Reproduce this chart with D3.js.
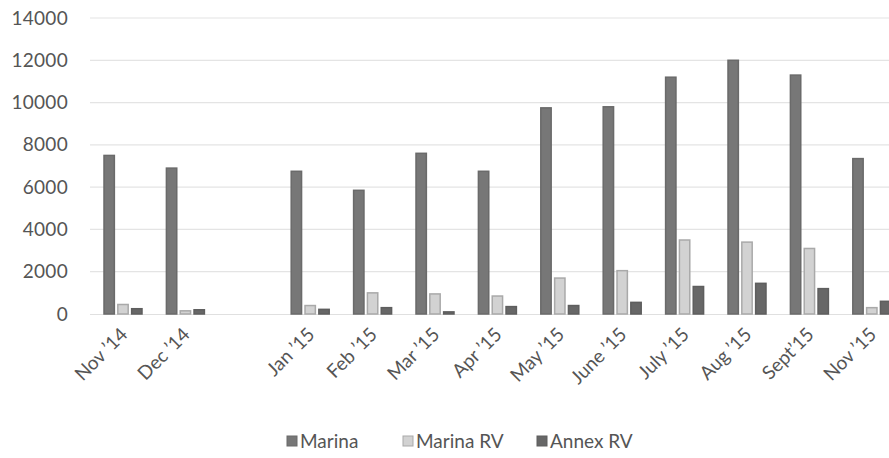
<!DOCTYPE html>
<html><head><meta charset="utf-8">
<script src="https://cdn.jsdelivr.net/npm/d3@7"></script>
<style>body{margin:0;background:#fff}svg{display:block}</style>
</head><body>
<svg id="c" width="889" height="458"></svg>
<script>
const categories = ["Nov \u201914","Dec \u201914","","Jan \u201915","Feb \u201915","Mar \u201915","Apr \u201915","May \u201915","June \u201915","July \u201915","Aug \u201915","Sept\u201915","Nov \u201915"];
const seriesNames = ["Marina","Marina RV","Annex RV"];
const marina   = [7500, 6900, null, 6750, 5850, 7600, 6750, 9750, 9800, 11200, 12000, 11300, 7350];
const marinaRV = [450, 150, null, 400, 1000, 950, 850, 1700, 2050, 3500, 3400, 3100, 300];
const annexRV  = [250, 200, null, 220, 300, 100, 350, 400, 550, 1300, 1450, 1200, 600];
const yTicks = [0,2000,4000,6000,8000,10000,12000,14000];

const seriesValues = [marina, marinaRV, annexRV];
const fills = ["#777777","#d2d2d2","#676767"];
const strokes = ["#6a6a6a","#a9a9a9","#5e5e5e"];
const font = "Lato, 'Open Sans', sans-serif";
const textColor = "#555555";

const svg = d3.select("#c");
const x0 = d3.scaleBand().domain(categories).range([91.8, 91.8 + 13*62.4]);
const groupW = 38;
const x1 = d3.scaleBand().domain(seriesNames).range([0, groupW]).paddingInner(0.25);
const y = d3.scaleLinear().domain([0,14000]).range([314, 18]);

// gridlines
svg.append("g").selectAll("line").data(yTicks.slice(1)).join("line")
  .attr("x1", 90).attr("x2", 889)
  .attr("y1", d=>y(d)).attr("y2", d=>y(d))
  .attr("stroke","#e4e4e4").attr("stroke-width",1.2);

// y axis labels
const yAxis = d3.axisLeft(y).tickValues(yTicks).tickSize(0).tickPadding(0).tickFormat(d3.format("d"));
const ya = svg.append("g").attr("transform","translate(68,0)").call(yAxis);
ya.select(".domain").remove();
ya.selectAll("text").attr("font-family",font).attr("font-size",19).attr("fill",textColor)
  .attr("letter-spacing","0.3px");

// baseline
svg.append("line").attr("x1",90).attr("x2",889).attr("y1",y(0)+0.5).attr("y2",y(0)+0.5)
  .attr("stroke","#e0e0e0").attr("stroke-width",1);

// bars
const off = (x0.bandwidth()-groupW)/2;
const groups = svg.append("g").selectAll("g").data(categories).join("g")
  .attr("transform", c => `translate(${x0(c)+off},0)`);
groups.selectAll("rect").data((c,i)=>seriesNames.map((s,k)=>({s,k,v:seriesValues[k][i]})).filter(d=>d.v!=null))
  .join("rect")
  .attr("x", d=>x1(d.s)).attr("width", x1.bandwidth())
  .attr("y", d=>y(d.v)).attr("height", d=>y(0)-y(d.v))
  .attr("fill", d=>fills[d.k]).attr("stroke", d=>strokes[d.k]).attr("stroke-width",1.5);

// x axis labels
const xAxis = d3.axisBottom(x0).tickSize(0).tickPadding(0);
const xa = svg.append("g").attr("transform","translate(0,331)").call(xAxis);
xa.select(".domain").remove();
xa.selectAll("text").attr("font-family",font).attr("font-size",19).attr("fill",textColor)
  .attr("text-anchor","end").attr("dy","0.35em").attr("dx","0")
  .attr("transform","translate(1,0) rotate(-45)");

// legend
const legendX = [287, 403, 537];
const lg = svg.append("g").selectAll("g").data(seriesNames).join("g")
  .attr("transform",(d,i)=>`translate(${legendX[i]},441)`);
lg.append("rect").attr("x",0).attr("y",-5).attr("width",10).attr("height",10)
  .attr("fill",(d,i)=>fills[i]).attr("stroke",(d,i)=>strokes[i]);
lg.append("text").attr("x",13).attr("dy","0.35em").text(d=>d)
  .attr("font-family",font).attr("font-size",19).attr("fill",textColor);
</script>
</body></html>
